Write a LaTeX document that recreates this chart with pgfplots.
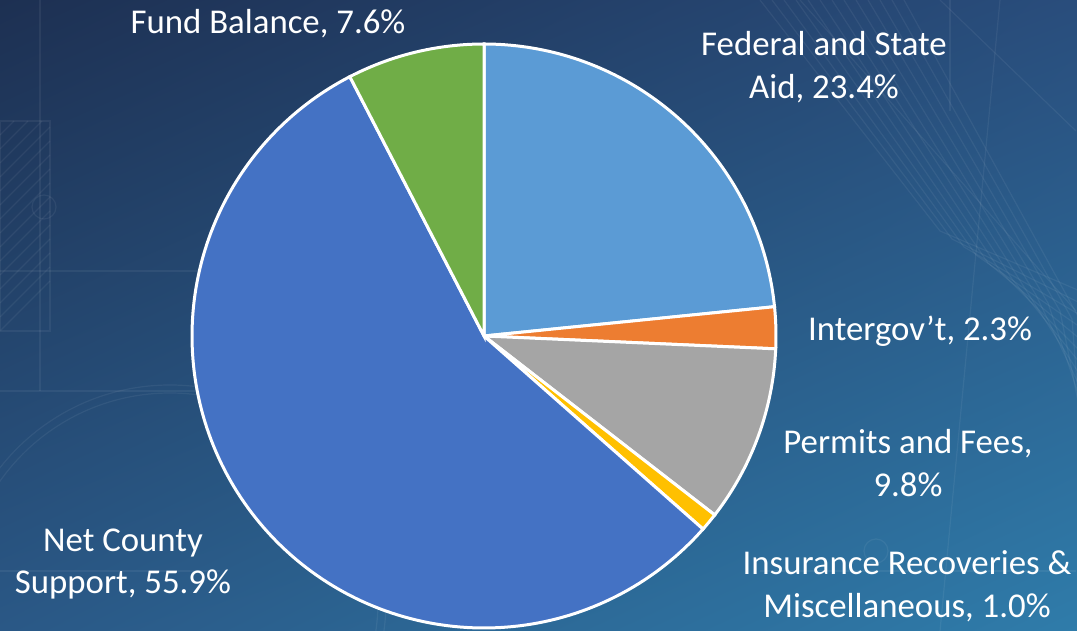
\documentclass[border=0pt]{standalone}
\usepackage{pgfplots}
\pgfplotsset{compat=1.18}
\usepackage{pgfplotstable}
\usetikzlibrary{shadings}
\usepackage{fontspec}
\setmainfont{Carlito}
\definecolor{cFed}{HTML}{5B9BD5}
\definecolor{cInt}{HTML}{ED7D31}
\definecolor{cPer}{HTML}{A5A5A5}
\definecolor{cIns}{HTML}{FFC000}
\definecolor{cNet}{HTML}{4472C4}
\definecolor{cFund}{HTML}{70AD47}
\definecolor{bgTL}{HTML}{1D3052}
\definecolor{bgTR}{HTML}{294D7C}
\definecolor{bgBL}{HTML}{2A5886}
\definecolor{bgBR}{HTML}{2F7CAA}
% share of each source, percent (clockwise from 12 o'clock)
\pgfplotstableread{
source value
Federal 23.4
Intergov 2.3
Permits 9.8
Insurance 1.0
NetCounty 55.9
Fund 7.6
}\piedata
\pgfplotstablegetelem{0}{value}\of\piedata \let\vA\pgfplotsretval
\pgfplotstablegetelem{1}{value}\of\piedata \let\vB\pgfplotsretval
\pgfplotstablegetelem{2}{value}\of\piedata \let\vC\pgfplotsretval
\pgfplotstablegetelem{3}{value}\of\piedata \let\vD\pgfplotsretval
\pgfplotstablegetelem{4}{value}\of\piedata \let\vE\pgfplotsretval
\pgfplotstablegetelem{5}{value}\of\piedata \let\vF\pgfplotsretval
\pgfmathsetmacro\aO{90}
\pgfmathsetmacro\aA{\aO-3.6*\vA}
\pgfmathsetmacro\aB{\aA-3.6*\vB}
\pgfmathsetmacro\aC{\aB-3.6*\vC}
\pgfmathsetmacro\aD{\aC-3.6*\vD}
\pgfmathsetmacro\aE{\aD-3.6*\vE}
\pgfmathsetmacro\aF{\aE-3.6*\vF}
\def\cx{484}\def\cy{295}\def\R{292}
\begin{document}
\begin{tikzpicture}
\useasboundingbox (0,0) rectangle (538.5pt,315.5pt);
\shade[upper left=bgTL, upper right=bgTR, lower left=bgBL, lower right=bgBR] (0,0) rectangle (538.5pt,315.5pt);
% faint blueprint decoration
\begin{scope}[draw=white, opacity=0.06, line width=0.6pt]
\clip (0,0) rectangle (538.5pt,315.5pt);
\draw (0pt,150pt) rectangle (25pt,255pt);
\foreach \i in {0,...,14} {\draw (0pt,{150pt+7*\i pt}) -- ({min(25,7*(15-\i))*1pt},{min(255,150+7*\i+min(25,7*(15-\i)))*1pt});}
\draw (0pt,180pt) -- (110pt,180pt);
\draw (20pt,120pt) -- (20pt,315.5pt);
\draw (22pt,212pt) circle (6pt);
\draw (85pt,15pt) circle (108pt);
\draw (85pt,15pt) circle (104pt);
\draw (0pt,120pt) -- (180pt,120pt);
\draw (0pt,30pt) -- (110pt,30pt);
\foreach \i in {0,...,12} {\draw ({380pt+6*\i pt},315.5pt) -- ({470pt+6*\i pt},{200pt-4*\i pt}) -- ({540pt},{170pt-6*\i pt});}
\draw (400pt,315.5pt) -- (538pt,160pt);
\draw (470pt,315.5pt) -- (538pt,250pt);
\draw (475pt,315.5pt) -- (475pt,260pt);
\draw (380pt,30pt) -- (538pt,30pt);
\draw (438pt,40pt) circle (6pt);
\draw (470pt,0pt) -- (500pt,315.5pt);
\end{scope}
\begin{axis}[at={(0,0)}, anchor=south west, scale only axis,
  width=538.5pt, height=315.5pt, xmin=0, xmax=1077, ymin=0, ymax=631,
  hide axis, clip=false]
\addplot[fill=cFed, draw=white, line width=1.5pt, domain=\aA:\aO, samples=80, variable=\t]
  ({\cx+\R*cos(\t)},{\cy+\R*sin(\t)}) -- (axis cs:\cx,\cy) -- cycle;
\addplot[fill=cInt, draw=white, line width=1.5pt, domain=\aB:\aA, samples=10, variable=\t]
  ({\cx+\R*cos(\t)},{\cy+\R*sin(\t)}) -- (axis cs:\cx,\cy) -- cycle;
\addplot[fill=cPer, draw=white, line width=1.5pt, domain=\aC:\aB, samples=40, variable=\t]
  ({\cx+\R*cos(\t)},{\cy+\R*sin(\t)}) -- (axis cs:\cx,\cy) -- cycle;
\addplot[fill=cIns, draw=white, line width=1.5pt, domain=\aD:\aC, samples=6, variable=\t]
  ({\cx+\R*cos(\t)},{\cy+\R*sin(\t)}) -- (axis cs:\cx,\cy) -- cycle;
\addplot[fill=cNet, draw=white, line width=1.5pt, domain=\aE:\aD, samples=160, variable=\t]
  ({\cx+\R*cos(\t)},{\cy+\R*sin(\t)}) -- (axis cs:\cx,\cy) -- cycle;
\addplot[fill=cFund, draw=white, line width=1.5pt, domain=\aF:\aE, samples=30, variable=\t]
  ({\cx+\R*cos(\t)},{\cy+\R*sin(\t)}) -- (axis cs:\cx,\cy) -- cycle;
\begin{scope}[every node/.style={text=white, font=\fontsize{17.4}{21.4}\selectfont, align=center, inner sep=0pt}]
\node[anchor=base] at (axis cs:268,597) {Fund Balance, 7.6\%};
\node at (axis cs:824,564) {Federal and State\\Aid, 23.4\%};
\node[anchor=base] at (axis cs:920,290) {Intergov’t, 2.3\%};
\node at (axis cs:908,168) {Permits and Fees,\\9.8\%};
\node at (axis cs:907,45) {Insurance Recoveries \&\\Miscellaneous, 1.0\%};
\node at (axis cs:123,67) {Net County\\Support, 55.9\%};
\end{scope}
\end{axis}
\end{tikzpicture}
\end{document}
